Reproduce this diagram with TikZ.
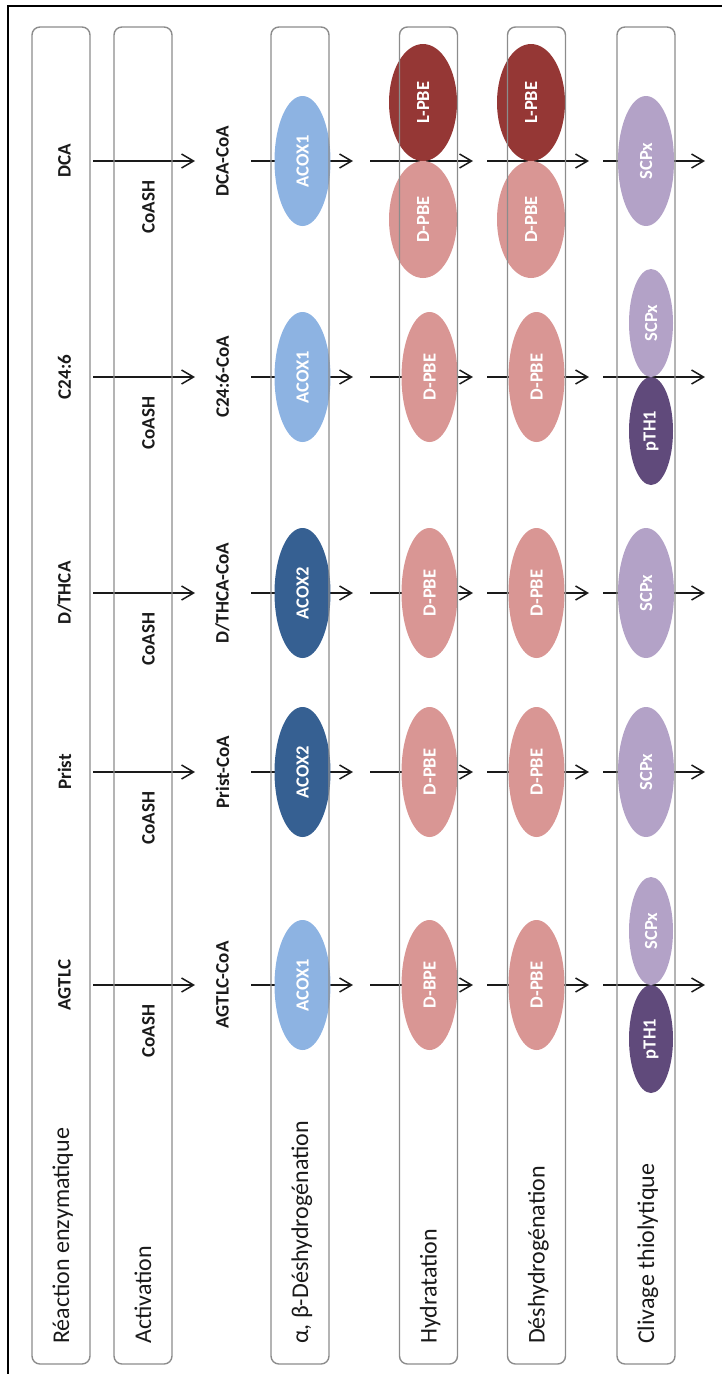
\documentclass[tikz,border=0pt]{standalone}
\usepackage{fontspec}
\setmainfont{Carlito}
\usetikzlibrary{shapes.geometric,arrows.meta}
\definecolor{acoxa}{HTML}{8DB3E2}
\definecolor{acoxb}{HTML}{366092}
\definecolor{dpbe}{HTML}{D99694}
\definecolor{lpbe}{HTML}{953735}
\definecolor{scpx}{HTML}{B3A2C7}
\definecolor{pth}{HTML}{604A7B}
\definecolor{boxline}{HTML}{8C8C8C}
\definecolor{ink}{HTML}{1A1A1A}
\begin{document}
\begin{tikzpicture}[x=1pt,y=-1pt,
  lanebox/.style={draw=boxline, line width=1.4pt, rounded corners=8pt, minimum width=58pt, minimum height=1337pt, inner sep=0pt},
  lanelabel/.style={rotate=90, anchor=base west, inner sep=0pt, text=ink, font=\fontsize{24}{28}\selectfont},
  comp/.style={rotate=90, inner sep=0pt, text=ink, font=\fontsize{19}{21}\selectfont\bfseries},
  arr/.style={-{Straight Barb[length=12pt,width=14pt]}, line width=1.5pt, draw=ink},
  enz/.style={ellipse, rotate=90, inner sep=0pt, text=white, font=\fontsize{18.5}{20}\selectfont\bfseries},
  single/.style={enz, minimum width=130pt, minimum height=56pt},
  pairL/.style={enz, minimum width=117pt, minimum height=68pt},
  pairS/.style={enz, minimum width=108pt, minimum height=44pt}]
\useasboundingbox (0,0) rectangle (722,1374);
\begin{scope}
\clip (0,0) rectangle (722,1374);
\draw[line width=2pt, black] (8,6) rectangle (780,1420);
\end{scope}

% arrows
\foreach \r/\y in {1/161,2/377,3/593,4/772,5/985}{
  \foreach \k/\xa/\xb in {1/93/195, 2/251/353, 3/370/473, 4/487/589, 5/603/705}{
    \coordinate (s\r\k) at (\xa,\y);
    \coordinate (e\r\k) at (\xb,\y);
    \draw[arr] (s\r\k) -- (e\r\k);
  }
}

% compounds
\node[comp] (sub1) at (64.5,161) {DCA};
\node[comp] (sub2) at (64.5,377) {C24:6};
\node[comp] (sub3) at (64.5,593) {D/THCA};
\node[comp] (sub4) at (64.5,772) {Prist};
\node[comp] (sub5) at (64.5,985) {AGTLC};
\foreach \r/\y in {1/161,2/377,3/593,4/772,5/985}{
  \node[comp] (coa\r) at (148.5,\y+46) {CoASH};
}
\node[comp] (pro1) at (222.5,161) {DCA-CoA};
\node[comp] (pro2) at (222.5,377) {C24:6-CoA};
\node[comp] (pro3) at (222.5,593) {D/THCA-CoA};
\node[comp] (pro4) at (222.5,772) {Prist-CoA};
\node[comp] (pro5) at (222.5,985) {AGTLC-CoA};

% enzymes row 1
\node[single, fill=acoxa] (r1c3) at (302.5,161) {ACOX1};
\node[pairL, fill=lpbe] (r1c4a) at (423,102.5) {L-PBE};
\node[pairL, fill=dpbe] (r1c4b) at (423,219.5) {D-PBE};
\node[pairL, fill=lpbe] (r1c5a) at (531,102.5) {L-PBE};
\node[pairL, fill=dpbe] (r1c5b) at (531,219.5) {D-PBE};
\node[single, fill=scpx] (r1c6) at (646,161) {SCPx};
% row 2
\node[single, fill=acoxa] (r2c3) at (302.5,377) {ACOX1};
\node[single, fill=dpbe] (r2c4) at (429.5,377) {D-PBE};
\node[single, fill=dpbe] (r2c5) at (536.5,377) {D-PBE};
\node[pairS, fill=scpx] (r2c6a) at (651,323) {SCPx};
\node[pairS, fill=pth] (r2c6b) at (651,431) {pTH1};
% row 3
\node[single, fill=acoxb] (r3c3) at (302.5,593) {ACOX2};
\node[single, fill=dpbe] (r3c4) at (429.5,593) {D-PBE};
\node[single, fill=dpbe] (r3c5) at (536.5,593) {D-PBE};
\node[single, fill=scpx] (r3c6) at (646,593) {SCPx};
% row 4
\node[single, fill=acoxb] (r4c3) at (302.5,772) {ACOX2};
\node[single, fill=dpbe] (r4c4) at (429.5,772) {D-PBE};
\node[single, fill=dpbe] (r4c5) at (536.5,772) {D-PBE};
\node[single, fill=scpx] (r4c6) at (646,772) {SCPx};
% row 5
\node[single, fill=acoxa] (r5c3) at (302.5,985) {ACOX1};
\node[single, fill=dpbe] (r5c4) at (429.5,985) {D-BPE};
\node[single, fill=dpbe] (r5c5) at (536.5,985) {D-PBE};
\node[pairS, fill=scpx] (r5c6a) at (651,931) {SCPx};
\node[pairS, fill=pth] (r5c6b) at (651,1039) {pTH1};

% lane boxes (drawn on top)
\node[lanebox] (b1) at (61,695.5) {};
\node[lanebox] (b2) at (143,695.5) {};
\node[lanebox] (b3) at (300,695.5) {};
\node[lanebox] (b4) at (428.5,695.5) {};
\node[lanebox] (b5) at (536.5,695.5) {};
\node[lanebox] (b6) at (646,695.5) {};

% lane labels
\node[lanelabel] (l1) at (69,1344) {Réaction enzymatique};
\node[lanelabel] (l2) at (151,1344) {Activation};
\node[lanelabel] (l3) at (308,1344) {α, β-Déshydrogénation};
\node[lanelabel] (l4) at (436.5,1344) {Hydratation};
\node[lanelabel] (l5) at (544.5,1344) {Déshydrogénation};
\node[lanelabel] (l6) at (654,1344) {Clivage thiolytique};
\end{tikzpicture}
\end{document}
